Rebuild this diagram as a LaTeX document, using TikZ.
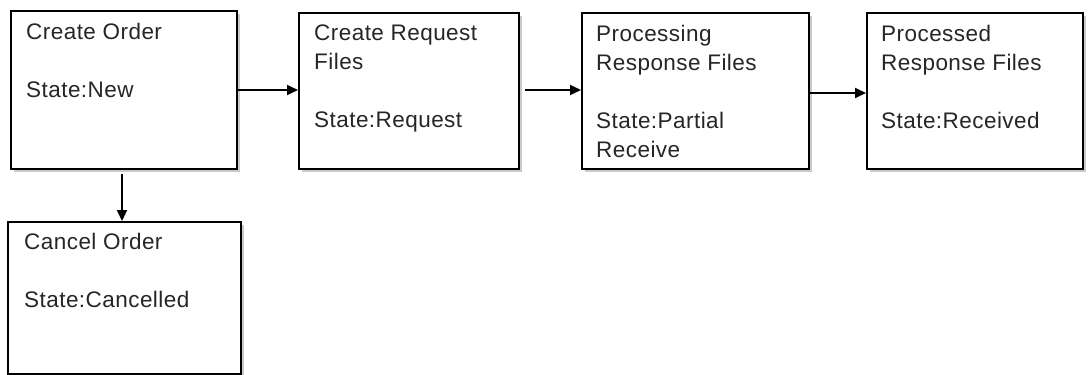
\documentclass[tikz,border=0pt]{standalone}
\usepackage{fontspec}
\setmainfont{Liberation Sans}[LetterSpace=2]
\usetikzlibrary{arrows.meta,shadows}
\begin{document}
\begin{tikzpicture}[x=1pt,y=1pt,
  statebox/.style={draw=black,line width=1.8pt,fill=white,inner sep=0pt,
    drop shadow={shadow xshift=3pt,shadow yshift=-3pt,fill=black!30,opacity=0.7}},
  boxtext/.style={anchor=north west,inner sep=0pt,align=left,
    font=\fontsize{22.5}{29}\selectfont,text=black!85},
  arr/.style={line width=1.8pt,-{Triangle[length=11pt,width=10pt]}}]
\useasboundingbox (0,0) rectangle (1088,-375);
% boxes: (left,top) to (right,bottom), y downward negative
\node[statebox,minimum width=226pt,minimum height=158pt,anchor=north west] (b1) at (10,-10) {};
\node[statebox,minimum width=220pt,minimum height=156pt,anchor=north west] (b2) at (298,-12) {};
\node[statebox,minimum width=227pt,minimum height=156pt,anchor=north west] (b3) at (581,-12) {};
\node[statebox,minimum width=216pt,minimum height=156pt,anchor=north west] (b4) at (866,-12) {};
\node[statebox,minimum width=233pt,minimum height=152pt,anchor=north west] (b5) at (7,-221) {};
% texts
\node[boxtext] (t1) at (26,-23) {Create Order\\ ~\\State:New};
\node[boxtext] (t2) at (314,-25) {Create Request\\Files\\ ~\\State:Request};
\node[boxtext] (t3) at (596,-25) {Processing\\Response Files\\ ~\\State:Partial\\Receive};
\node[boxtext] (t4) at (881,-25) {Processed\\Response Files\\ ~\\State:Received};
\node[boxtext] (t5) at (24,-233) {Cancel Order\\ ~\\State:Cancelled};
% connectors
\coordinate (ya) at (0,-90);
\coordinate (yb) at (0,-93);
\coordinate (xd) at (122,0);
\draw[arr] (b1.east |- ya) -- (b2.west |- ya);
\draw[arr] ([xshift=5pt]b2.east |- ya) -- (b3.west |- ya);
\draw[arr] (b3.east |- yb) -- (b4.west |- yb);
\draw[arr] ([yshift=-4pt]xd |- b1.south) -- (xd |- b5.north);
\end{tikzpicture}
\end{document}
